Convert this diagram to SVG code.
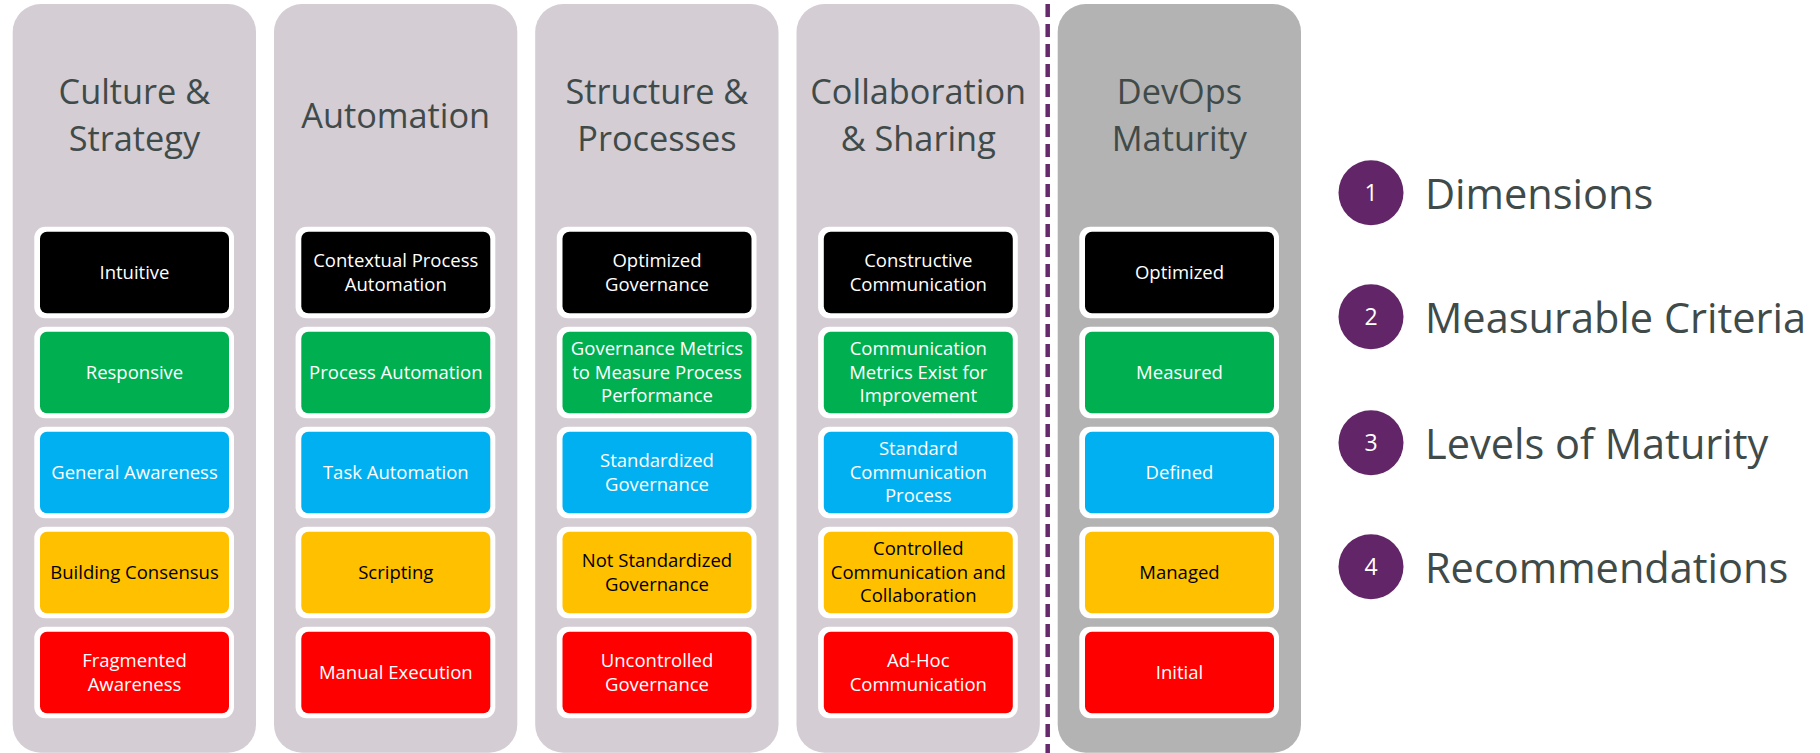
<svg xmlns="http://www.w3.org/2000/svg" width="1820" height="753" viewBox="0 0 1820 753">
<style>
.col{fill:#d4cdd4}
.colD{fill:#b3b3b3}
.title{font-family:"Open Sans","Noto Sans",sans-serif;font-size:34.3px;fill:#404a49;text-anchor:middle}
.rim{fill:#ffffff}
.bt{font-family:"Open Sans","Noto Sans",sans-serif;font-size:18.5px;text-anchor:middle;fill:#ffffff}
.dk{fill:#000000}
.k{fill:#000000}.g{fill:#00b050}.b{fill:#00b0f0}.y{fill:#ffc000}.r{fill:#ff0000}
.circ{fill:#622567}
.num{font-family:"Open Sans","Noto Sans",sans-serif;font-size:23px;fill:#ffffff;text-anchor:middle}
.leg{font-family:"Open Sans","Noto Sans",sans-serif;font-size:41.5px;fill:#404a49}
</style>
<defs>
<g id="rims">
<rect class="rim" x="21.6" y="226.7" width="199.7" height="91.6" rx="11"/>
<rect class="rim" x="21.6" y="326.7" width="199.7" height="91.6" rx="11"/>
<rect class="rim" x="21.6" y="426.7" width="199.7" height="91.6" rx="11"/>
<rect class="rim" x="21.6" y="526.7" width="199.7" height="91.6" rx="11"/>
<rect class="rim" x="21.6" y="626.7" width="199.7" height="91.6" rx="11"/>
<rect class="k" x="27.3" y="231.7" width="189" height="81.6" rx="7"/>
<rect class="g" x="27.3" y="331.7" width="189" height="81.6" rx="7"/>
<rect class="b" x="27.3" y="431.7" width="189" height="81.6" rx="7"/>
<rect class="y" x="27.3" y="531.7" width="189" height="81.6" rx="7"/>
<rect class="r" x="27.3" y="631.7" width="189" height="81.6" rx="7"/>
</g>
</defs>

<g id="connectors">
<line x1="1047.7" y1="4" x2="1047.7" y2="753" stroke="#662a6c" stroke-width="4.5" stroke-dasharray="13 7"/>
</g>

<g id="col-culture" transform="translate(12.7,0)">
<rect class="col" x="0" y="4" width="243.3" height="748.7" rx="28"/>
<text class="title" x="121.7" y="103.8">Culture &amp;</text>
<text class="title" x="121.7" y="150.6">Strategy</text>
<use href="#rims"/>
<text class="bt" x="121.8" y="278.8">Intuitive</text>
<text class="bt" x="121.8" y="378.8">Responsive</text>
<text class="bt" x="121.8" y="478.8">General Awareness</text>
<text class="bt dk" x="121.8" y="578.8">Building Consensus</text>
<text class="bt" x="121.8" y="667">Fragmented</text>
<text class="bt" x="121.8" y="690.5">Awareness</text>
</g>

<g id="col-automation" transform="translate(274,0)">
<rect class="col" x="0" y="4" width="243.3" height="748.7" rx="28"/>
<text class="title" x="121.7" y="127.7">Automation</text>
<use href="#rims"/>
<text class="bt" x="121.8" y="267">Contextual Process</text>
<text class="bt" x="121.8" y="290.5">Automation</text>
<text class="bt" x="121.8" y="378.8">Process Automation</text>
<text class="bt" x="121.8" y="478.8">Task Automation</text>
<text class="bt dk" x="121.8" y="578.8">Scripting</text>
<text class="bt" x="121.8" y="678.8">Manual Execution</text>
</g>

<g id="col-structure" transform="translate(535.2,0)">
<rect class="col" x="0" y="4" width="243.3" height="748.7" rx="28"/>
<text class="title" x="121.7" y="103.8">Structure &amp;</text>
<text class="title" x="121.7" y="150.6">Processes</text>
<use href="#rims"/>
<text class="bt" x="121.8" y="267">Optimized</text>
<text class="bt" x="121.8" y="290.5">Governance</text>
<text class="bt" x="121.8" y="355.3">Governance Metrics</text>
<text class="bt" x="121.8" y="378.8">to Measure Process</text>
<text class="bt" x="121.8" y="402.3">Performance</text>
<text class="bt" x="121.8" y="467">Standardized</text>
<text class="bt" x="121.8" y="490.5">Governance</text>
<text class="bt dk" x="121.8" y="567">Not Standardized</text>
<text class="bt dk" x="121.8" y="590.5">Governance</text>
<text class="bt" x="121.8" y="667">Uncontrolled</text>
<text class="bt" x="121.8" y="690.5">Governance</text>
</g>

<g id="col-collaboration" transform="translate(796.5,0)">
<rect class="col" x="0" y="4" width="243.3" height="748.7" rx="28"/>
<text class="title" x="121.7" y="103.8">Collaboration</text>
<text class="title" x="121.7" y="150.6">&amp; Sharing</text>
<use href="#rims"/>
<text class="bt" x="121.8" y="267">Constructive</text>
<text class="bt" x="121.8" y="290.5">Communication</text>
<text class="bt" x="121.8" y="355.3">Communication</text>
<text class="bt" x="121.8" y="378.8">Metrics Exist for</text>
<text class="bt" x="121.8" y="402.3">Improvement</text>
<text class="bt" x="121.8" y="455.3">Standard</text>
<text class="bt" x="121.8" y="478.8">Communication</text>
<text class="bt" x="121.8" y="502.3">Process</text>
<text class="bt dk" x="121.8" y="555.3">Controlled</text>
<text class="bt dk" x="121.8" y="578.8">Communication and</text>
<text class="bt dk" x="121.8" y="602.3">Collaboration</text>
<text class="bt" x="121.8" y="667">Ad-Hoc</text>
<text class="bt" x="121.8" y="690.5">Communication</text>
</g>

<g id="col-devops" transform="translate(1057.7,0)">
<rect class="colD" x="0" y="4" width="243.3" height="748.7" rx="28"/>
<text class="title" x="121.7" y="103.8">DevOps</text>
<text class="title" x="121.7" y="150.6">Maturity</text>
<use href="#rims"/>
<text class="bt" x="121.8" y="278.8">Optimized</text>
<text class="bt" x="121.8" y="378.8">Measured</text>
<text class="bt" x="121.8" y="478.8">Defined</text>
<text class="bt dk" x="121.8" y="578.8">Managed</text>
<text class="bt" x="121.8" y="678.8">Initial</text>
</g>

<g id="legend-1">
<circle class="circ" cx="1371" cy="192.7" r="32.5"/>
<text class="num" x="1371" y="201">1</text>
<text class="leg" x="1425" y="209.3">Dimensions</text>
</g>
<g id="legend-2">
<circle class="circ" cx="1371" cy="316.7" r="32.5"/>
<text class="num" x="1371" y="325">2</text>
<text class="leg" x="1425" y="333.3">Measurable Criteria</text>
</g>
<g id="legend-3">
<circle class="circ" cx="1371" cy="442.7" r="32.5"/>
<text class="num" x="1371" y="451">3</text>
<text class="leg" x="1425" y="459.3">Levels of Maturity</text>
</g>
<g id="legend-4">
<circle class="circ" cx="1371" cy="566.7" r="32.5"/>
<text class="num" x="1371" y="575">4</text>
<text class="leg" x="1425" y="583.3">Recommendations</text>
</g>
</svg>
